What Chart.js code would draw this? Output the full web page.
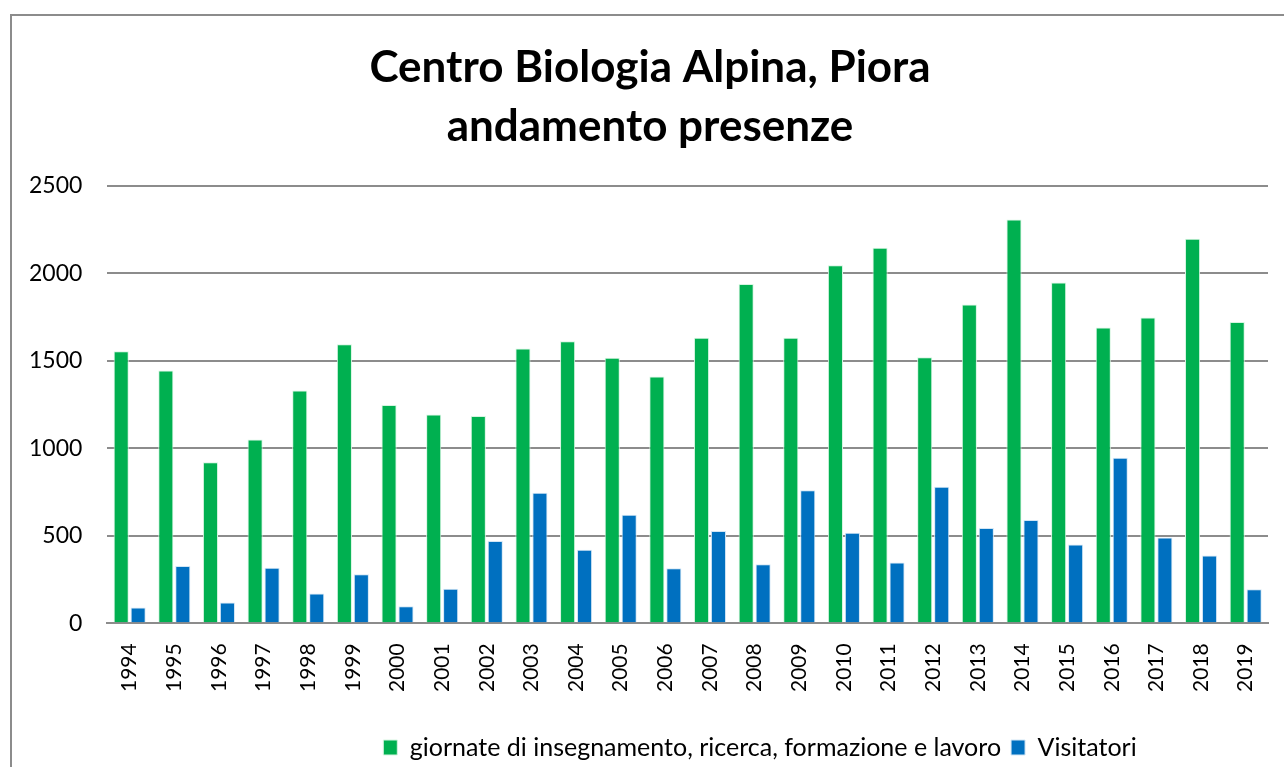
<!DOCTYPE html>
<html>
<head>
<meta charset="utf-8">
<script src="https://cdn.jsdelivr.net/npm/chart.js@4.4.1/dist/chart.umd.min.js"></script>
<style>
  html, body { margin: 0; padding: 0; background: #fff; }
  #wrap { position: relative; width: 1284px; height: 767px; overflow: hidden; }
  #frame { position: absolute; left: 10px; top: 14px; width: 1300px; height: 800px;
           border-left: 2px solid #8c8c8c; border-top: 2px solid #8c8c8c; }
  canvas { position: absolute; left: 0; top: 0; }
</style>
</head>
<body>
<div id="wrap">
  <div id="frame"></div>
  <canvas id="chart" width="1284" height="767"></canvas>
</div>
<script>
// --- Daten ---
const years = ['1994', '1995', '1996', '1997', '1998', '1999', '2000', '2001', '2002',
    '2003', '2004', '2005', '2006', '2007', '2008', '2009', '2010', '2011', '2012',
    '2013', '2014', '2015', '2016', '2017', '2018', '2019'];

const giornate = [1555, 1445, 920, 1050, 1330, 1595, 1248, 1193, 1185,
    1570, 1612, 1518, 1410, 1632, 1940, 1632, 2047, 2147, 1520,
    1822, 2308, 1948, 1690, 1748, 2198, 1722];

const visitatori = [90, 328, 119, 318, 170, 280, 97, 197, 471,
    746, 420, 620, 314, 528, 337, 760, 518, 348, 780,
    545, 590, 450, 946, 490, 388, 195];

const yTicks = [0, 500, 1000, 1500, 2000, 2500];

const fontFam = "Lato, 'Open Sans', 'Liberation Sans', sans-serif";

// --- Titel und Legende leicht verschieben (wie im Original) ---
const boxShift = {
    id: 'boxShift',
    afterLayout(chart) {
        if (chart.legend) {
            chart.legend.left += 124;
            chart.legend.right += 124;
            chart.legend.top += 5;
            chart.legend.bottom += 5;
        }
        if (chart.titleBlock) {
            chart.titleBlock.left += 14;
            chart.titleBlock.right += 14;
        }
    }
};

// --- Chart ---
new Chart(document.getElementById('chart').getContext('2d'), {
    type: 'bar',
    data: {
        labels: years,
        datasets: [
            {
                label: 'giornate di insegnamento, ricerca, formazione e lavoro',
                data: giornate,
                backgroundColor: '#00b050',
                borderColor: '#d6f5e1',
                borderWidth: 1,
                categoryPercentage: 0.76,
                barPercentage: 0.89
            },
            {
                label: 'Visitatori',
                data: visitatori,
                backgroundColor: '#0070c0',
                borderColor: '#d2e6f5',
                borderWidth: 1,
                categoryPercentage: 0.76,
                barPercentage: 0.89
            }
        ]
    },
    plugins: [boxShift],
    options: {
        responsive: false,
        animation: false,
        layout: { padding: { left: 4, right: 16, top: 0, bottom: 2 } },
        plugins: {
            title: {
                display: true,
                text: ['Centro Biologia Alpina, Piora', 'andamento presenze'],
                color: '#000',
                font: { family: fontFam, size: 44, weight: 'bold', lineHeight: 1.34 },
                padding: { top: 38, bottom: 30 }
            },
            legend: {
                position: 'bottom',
                labels: {
                    color: '#000',
                    font: { family: fontFam, size: 25 },
                    boxWidth: 14,
                    boxHeight: 15,
                    padding: 10
                }
            },
            tooltip: { enabled: false }
        },
        scales: {
            x: {
                grid: { display: false },
                border: { color: '#8c8c8c', width: 2 },
                ticks: {
                    color: '#000',
                    font: { family: fontFam, size: 21 },
                    minRotation: 90,
                    maxRotation: 90,
                    padding: 12
                },
                // Platz zwischen Jahreszahlen und Legende
                afterFit: function(scale) { scale.height += 16; }
            },
            y: {
                min: 0,
                max: 2500,
                afterBuildTicks: function(axis) {
                    axis.ticks = yTicks.map(v => ({ value: v }));
                },
                grid: { color: '#8c8c8c', lineWidth: 2, drawTicks: false },
                border: { display: false },
                ticks: {
                    color: '#000',
                    font: { family: fontFam, size: 23 },
                    padding: 25,
                    callback: function(v) { return String(v); }
                }
            }
        }
    }
});
</script>
</body>
</html>
